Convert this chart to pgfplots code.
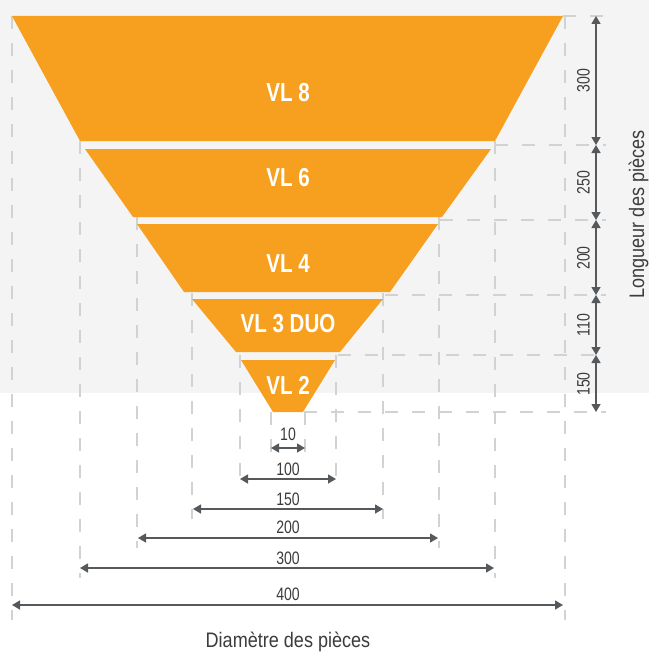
\documentclass[border=0pt]{standalone}
\usepackage{fontspec}
\setmainfont{Liberation Sans}
\newfontfamily\labfont{Liberation Sans}[FakeStretch=0.79]
\newfontfamily\numfont{Liberation Sans}[FakeStretch=0.78]
\newfontfamily\axfont{Liberation Sans}[FakeStretch=0.86]
\usepackage{pgfplots}
\pgfplotsset{compat=1.18}
\usetikzlibrary{arrows.meta}

\definecolor{vlorange}{HTML}{F7A01F}
\definecolor{bgband}{HTML}{F4F4F4}
\definecolor{guidegray}{HTML}{D2D2D2}
\definecolor{dimgray}{HTML}{55595C}
\definecolor{txtgray}{HTML}{3C3C3C}

\tikzset{
  guideline/.style={draw=guidegray, line width=1.2bp, dash pattern=on 13bp off 14bp},
  dimarrow/.style={draw=dimgray, line width=1.4bp,
    {Triangle[length=8bp,width=9bp]}-{Triangle[length=8bp,width=9bp]}},
  vl/.style={text=white, inner sep=0pt,
    font=\labfont\bfseries\fontsize{26bp}{26bp}\selectfont},
  num/.style={text=txtgray, inner sep=0pt,
    font=\numfont\fontsize{18bp}{18bp}\selectfont},
  ttl/.style={text=txtgray, inner sep=0pt,
    font=\axfont\fontsize{21bp}{21bp}\selectfont},
}

\begin{document}
\begin{tikzpicture}
\begin{axis}[
    width=649bp, height=652bp, scale only axis,
    xmin=0, xmax=649, ymin=0, ymax=652, y dir=reverse,
    hide axis, clip=false,
  ]
  % background
  \addplot[fill=white, draw=none] coordinates {(0,0)(649,0)(649,652)(0,652)} -- cycle;
  \addplot[fill=bgband, draw=none] coordinates {(0,0)(649,0)(649,393)(0,393)} -- cycle;

  % vertical guides
  \addplot[guideline] coordinates {(12,16)(12,620)};
  \addplot[guideline] coordinates {(565,16)(565,620)};
  \addplot[guideline] coordinates {(80,141)(80,578)};
  \addplot[guideline] coordinates {(495,141)(495,578)};
  \addplot[guideline] coordinates {(137,217)(137,548)};
  \addplot[guideline] coordinates {(439,217)(439,548)};
  \addplot[guideline] coordinates {(192,293)(192,519)};
  \addplot[guideline] coordinates {(383,293)(383,519)};
  \addplot[guideline] coordinates {(240,355)(240,489)};
  \addplot[guideline] coordinates {(336,355)(336,489)};
  \addplot[guideline] coordinates {(271,412)(271,457)};
  \addplot[guideline] coordinates {(305,412)(305,457)};

  % horizontal guides
  \addplot[guideline] coordinates {(563,16)(608,16)};
  \addplot[guideline] coordinates {(495,145)(606,145)};
  \addplot[guideline] coordinates {(440,220)(606,220)};
  \addplot[guideline] coordinates {(385,295)(606,295)};
  \addplot[guideline] coordinates {(338,355)(606,355)};
  \addplot[guideline] coordinates {(304,412)(606,412)};

  % funnel
  \addplot[fill=vlorange, draw=none] coordinates {(12,16)(563,16)(495,141)(80,141)} -- cycle;
  \addplot[fill=vlorange, draw=none] coordinates {(85,149)(491,149)(442,217)(133,217)} -- cycle;
  \addplot[fill=vlorange, draw=none] coordinates {(137,224)(438,224)(390,292)(184,292)} -- cycle;
  \addplot[fill=vlorange, draw=none] coordinates {(192,299)(383,299)(340,352)(236,352)} -- cycle;
  \addplot[fill=vlorange, draw=none] coordinates {(241,360)(335,360)(303,412)(273,412)} -- cycle;

  \node[vl] at (axis cs:288,93) {VL 8};
  \node[vl] at (axis cs:288,178) {VL 6};
  \node[vl] at (axis cs:288,264) {VL 4};
  \node[vl] at (axis cs:288,324) {VL 3 DUO};
  \node[vl] at (axis cs:288,385.5) {VL 2};

  % diameters
  \addplot[dimarrow] coordinates {(271,448)(305,448)};
  \addplot[dimarrow] coordinates {(240,479)(336,479)};
  \addplot[dimarrow] coordinates {(193,509)(383,509)};
  \addplot[dimarrow] coordinates {(138,538)(438,538)};
  \addplot[dimarrow] coordinates {(80,568)(494,568)};
  \addplot[dimarrow] coordinates {(12,605)(563,605)};

  \node[num] at (axis cs:288,434.5) {10};
  \node[num] at (axis cs:288,469.5) {100};
  \node[num] at (axis cs:288,499) {150};
  \node[num] at (axis cs:288,527) {200};
  \node[num] at (axis cs:288,558) {300};
  \node[num] at (axis cs:288,594) {400};

  % lengths
  \addplot[dimarrow] coordinates {(596,16)(596,145)};
  \addplot[dimarrow] coordinates {(596,145)(596,220)};
  \addplot[dimarrow] coordinates {(596,220)(596,295)};
  \addplot[dimarrow] coordinates {(596,295)(596,355)};
  \addplot[dimarrow] coordinates {(596,355)(596,412)};

  \node[num, rotate=90] at (axis cs:583.5,80.5) {300};
  \node[num, rotate=90] at (axis cs:583.5,182.5) {250};
  \node[num, rotate=90] at (axis cs:583.5,258) {200};
  \node[num, rotate=90] at (axis cs:583.5,325) {110};
  \node[num, rotate=90] at (axis cs:583.5,384) {150};

  \node[ttl, anchor=base] at (axis cs:288,647) {Diamètre des pièces};
  \node[ttl, anchor=base, rotate=90] at (axis cs:644,214.5) {Longueur des pièces};
\end{axis}
\end{tikzpicture}
\end{document}
